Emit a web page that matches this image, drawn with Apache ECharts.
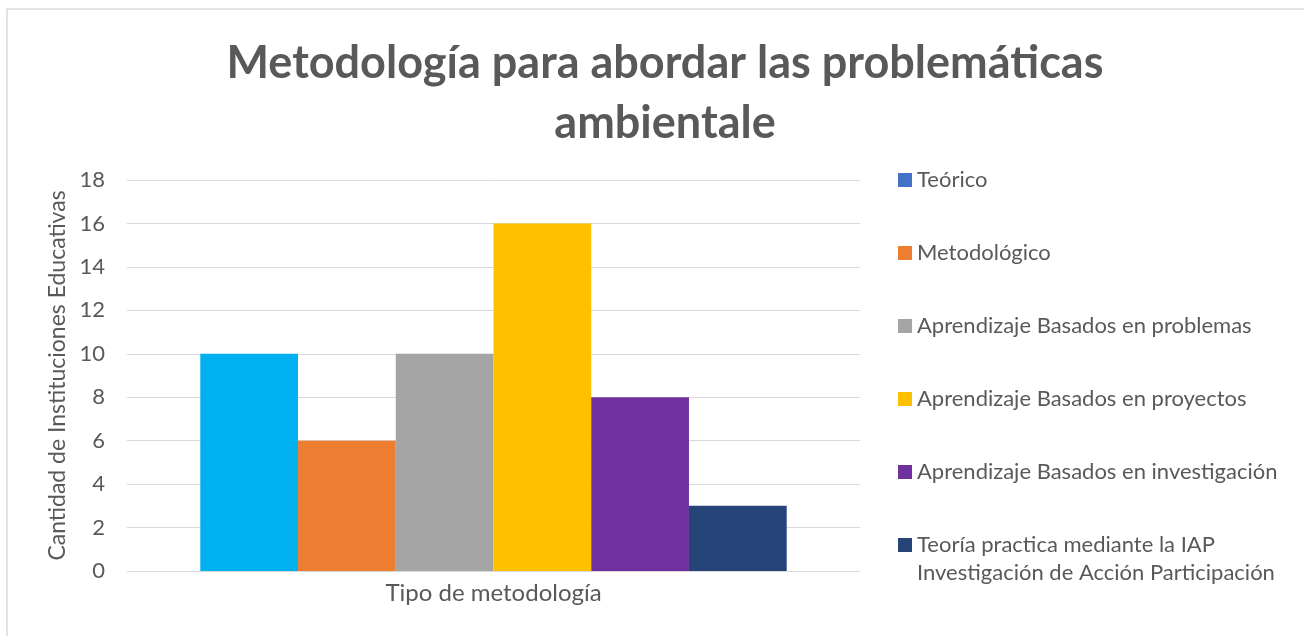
<!DOCTYPE html>
<html>
<head>
<meta charset="utf-8">
<script src="https://cdn.jsdelivr.net/npm/echarts@6/dist/echarts.min.js"></script>
<style>
	html, body { margin: 0; padding: 0; background: #fff; }
	#chart { width: 1304px; height: 636px; }
</style>
</head>
<body>
<div id="chart"></div>
<script>
// datos
const categories = ['Tipo de metodología'];
const seriesNames = [
	'Teórico',
	'Metodológico',
	'Aprendizaje Basados en problemas',
	'Aprendizaje Basados en proyectos',
	'Aprendizaje Basados en investigación',
	'Teoría practica mediante la IAP\nInvestigación de Acción Participación',
];
const values = [10, 6, 10, 16, 8, 3];
const barColors = ['#00B0F0', '#ED7D31', '#A5A5A5', '#FFC000', '#7030A0', '#264478'];
const legendColors = ['#4472C4', '#ED7D31', '#A5A5A5', '#FFC000', '#7030A0', '#264478'];
const yTicks = { min: 0, max: 18, interval: 2 };

const font = 'Lato, "Open Sans", sans-serif';
const grey = '#595959';

const chart = echarts.init(document.getElementById('chart'));

const legendItems = seriesNames.map((name, i) => ({ name: name, itemStyle: { color: legendColors[i] } }));

const legendBase = {
	orient: 'vertical',
	left: 898,
	padding: 0,
	itemWidth: 14,
	itemHeight: 14,
	itemGap: 45,
	icon: 'rect',
	textStyle: { fontFamily: font, fontSize: 22, color: grey, lineHeight: 28 },
};

const option = {
	backgroundColor: '#fff',
	animation: false,
	textStyle: { fontFamily: font },
	title: {
		text: 'Metodología para abordar las problemáticas\nambientale',
		left: 660,
		textAlign: 'center',
		top: 28,
		textStyle: {
			fontFamily: font,
			fontSize: 45,
			fontWeight: 'bold',
			color: grey,
			lineHeight: 60,
		},
	},
	graphic: [
		{
			type: 'rect',
			shape: { x: 7, y: 9, width: 1400, height: 700 },
			style: { fill: 'none', stroke: '#d9d9d9', lineWidth: 1.5 },
			silent: true,
		},
	],
	legend: [
		Object.assign({}, legendBase, {
			top: 166,
			height: 700,
			data: legendItems.slice(0, 5),
		}),
		// la última entrada tiene dos líneas: la primera va a la altura del marcador
		Object.assign({}, legendBase, {
			top: 503,
			height: 200,
			data: legendItems.slice(5),
			formatter: name => '\n' + name,
		}),
	],
	grid: {
		left: 127,
		right: 444,
		top: 180,
		bottom: 65,
	},
	xAxis: {
		type: 'category',
		data: categories,
		axisTick: { show: false },
		axisLine: { lineStyle: { color: '#d9d9d9', width: 1 } },
		axisLabel: { color: grey, fontSize: 24, margin: 10, fontFamily: font },
	},
	yAxis: {
		type: 'value',
		min: yTicks.min,
		max: yTicks.max,
		interval: yTicks.interval,
		name: 'Cantidad de Instituciones Educativas',
		nameLocation: 'middle',
		nameGap: 57,
		nameTextStyle: { color: grey, fontSize: 23, fontFamily: font },
		axisLine: { show: false },
		axisTick: { show: false },
		axisLabel: { color: grey, fontSize: 22, margin: 22, fontFamily: font },
		splitLine: { lineStyle: { color: '#d9d9d9', width: 1 } },
	},
	series: seriesNames.map((name, i) => ({
		name: name,
		type: 'bar',
		data: [values[i]],
		barGap: '0%',
		barCategoryGap: '20%',
		itemStyle: { color: barColors[i] },
	})),
};

chart.setOption(option);
</script>
</body>
</html>
